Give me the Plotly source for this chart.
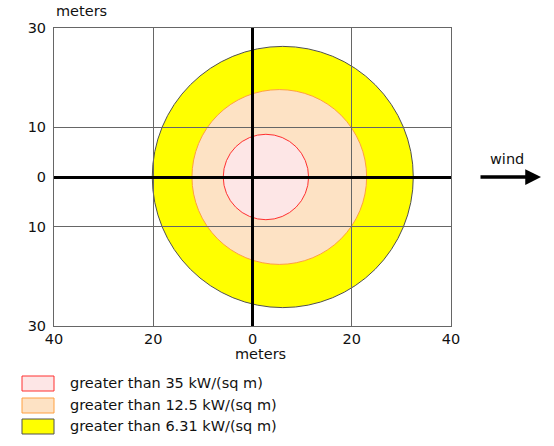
import plotly.graph_objects as go

# threat zones: downwind offset of centre and radius (meters)
zone_labels = ["greater than 35 kW/(sq m)", "greater than 12.5 kW/(sq m)", "greater than 6.31 kW/(sq m)"]
zone_center_x = [2.7, 5.4, 6.1]
zone_radius = [8.6, 17.6, 26.3]
zone_fill = ["#fde6e6", "#fde2c4", "#ffff00"]
zone_line = ["#ff3030", "#ffa040", "#505050"]

x_ticks = [-40, -20, 0, 20, 40]
x_ticktext = ["40", "20", "0", "20", "40"]
y_ticks = [-30, -10, 0, 10, 30]
y_ticktext = ["30", "10", "0", "10", "30"]

W, H = 554, 446
L, R, T, B = 54, 451, 28, 326  # plot area in pixels
FONT = "DejaVu Sans"
FS = 14.5


def px_x(px):
    return (px - L) / (R - L)


def px_y(py):
    return (B - py) / (B - T)


def label(x, y, text, xanchor="center"):
    return dict(x=px_x(x), y=px_y(y), xref="paper", yref="paper", text=text,
                showarrow=False, xanchor=xanchor, yanchor="middle",
                font=dict(family=FONT, size=FS, color="#111"))


fig = go.Figure()
# invisible trace so axes exist
fig.add_trace(go.Scatter(x=[-40, 40], y=[-30, 30], mode="markers",
                         marker=dict(opacity=0), hoverinfo="skip", showlegend=False))

shapes = []
# biggest zone first so smaller ones sit on top
for i in reversed(range(len(zone_labels))):
    cx, r = zone_center_x[i], zone_radius[i]
    shapes.append(dict(type="circle", xref="x", yref="y", layer="below",
                       x0=cx - r, x1=cx + r, y0=-r, y1=r,
                       fillcolor=zone_fill[i], line=dict(color=zone_line[i], width=1)))

annotations = []
# legend boxes drawn by hand
box_top = [376, 398, 419]
for i, lab in enumerate(zone_labels):
    shapes.append(dict(type="rect", xref="paper", yref="paper",
                       x0=px_x(22), x1=px_x(54), y0=px_y(box_top[i] + 15), y1=px_y(box_top[i]),
                       fillcolor=zone_fill[i], line=dict(color=zone_line[i], width=1)))
    annotations.append(label(68, box_top[i] + 7, lab, xanchor="left"))

# axis titles
annotations.append(label(81, 11, "meters"))
annotations.append(label(260, 354, "meters"))

# wind arrow
annotations.append(dict(x=px_x(541), y=0, xref="paper", yref="y", ax=-62, ay=0,
                        showarrow=True, arrowhead=2, arrowsize=0.9, arrowwidth=3.5,
                        arrowcolor="black", text=""))
annotations.append(label(507, 159, "wind"))

axis_common = dict(showgrid=True, gridcolor="#666", gridwidth=1,
                   zeroline=True, zerolinecolor="black", zerolinewidth=2.5,
                   showline=True, linecolor="#666", linewidth=1, mirror=True,
                   ticks="", tickfont=dict(family=FONT, size=FS, color="#111"),
                   fixedrange=True)

fig.update_layout(
    width=W, height=H,
    margin=dict(l=L, r=W - R, t=T, b=H - B),
    plot_bgcolor="white", paper_bgcolor="white",
    showlegend=False,
    xaxis=dict(range=[-40, 40], tickvals=x_ticks, ticktext=x_ticktext, **axis_common),
    yaxis=dict(range=[-30, 30], tickvals=y_ticks, ticktext=y_ticktext,
               ticklabelstandoff=4, **axis_common),
    shapes=shapes,
    annotations=annotations,
)

# drop the default page margin so the figure fills the window
fig.write_html("out.html", config={"displayModeBar": False},
               post_script="document.body.style.margin='0';")
